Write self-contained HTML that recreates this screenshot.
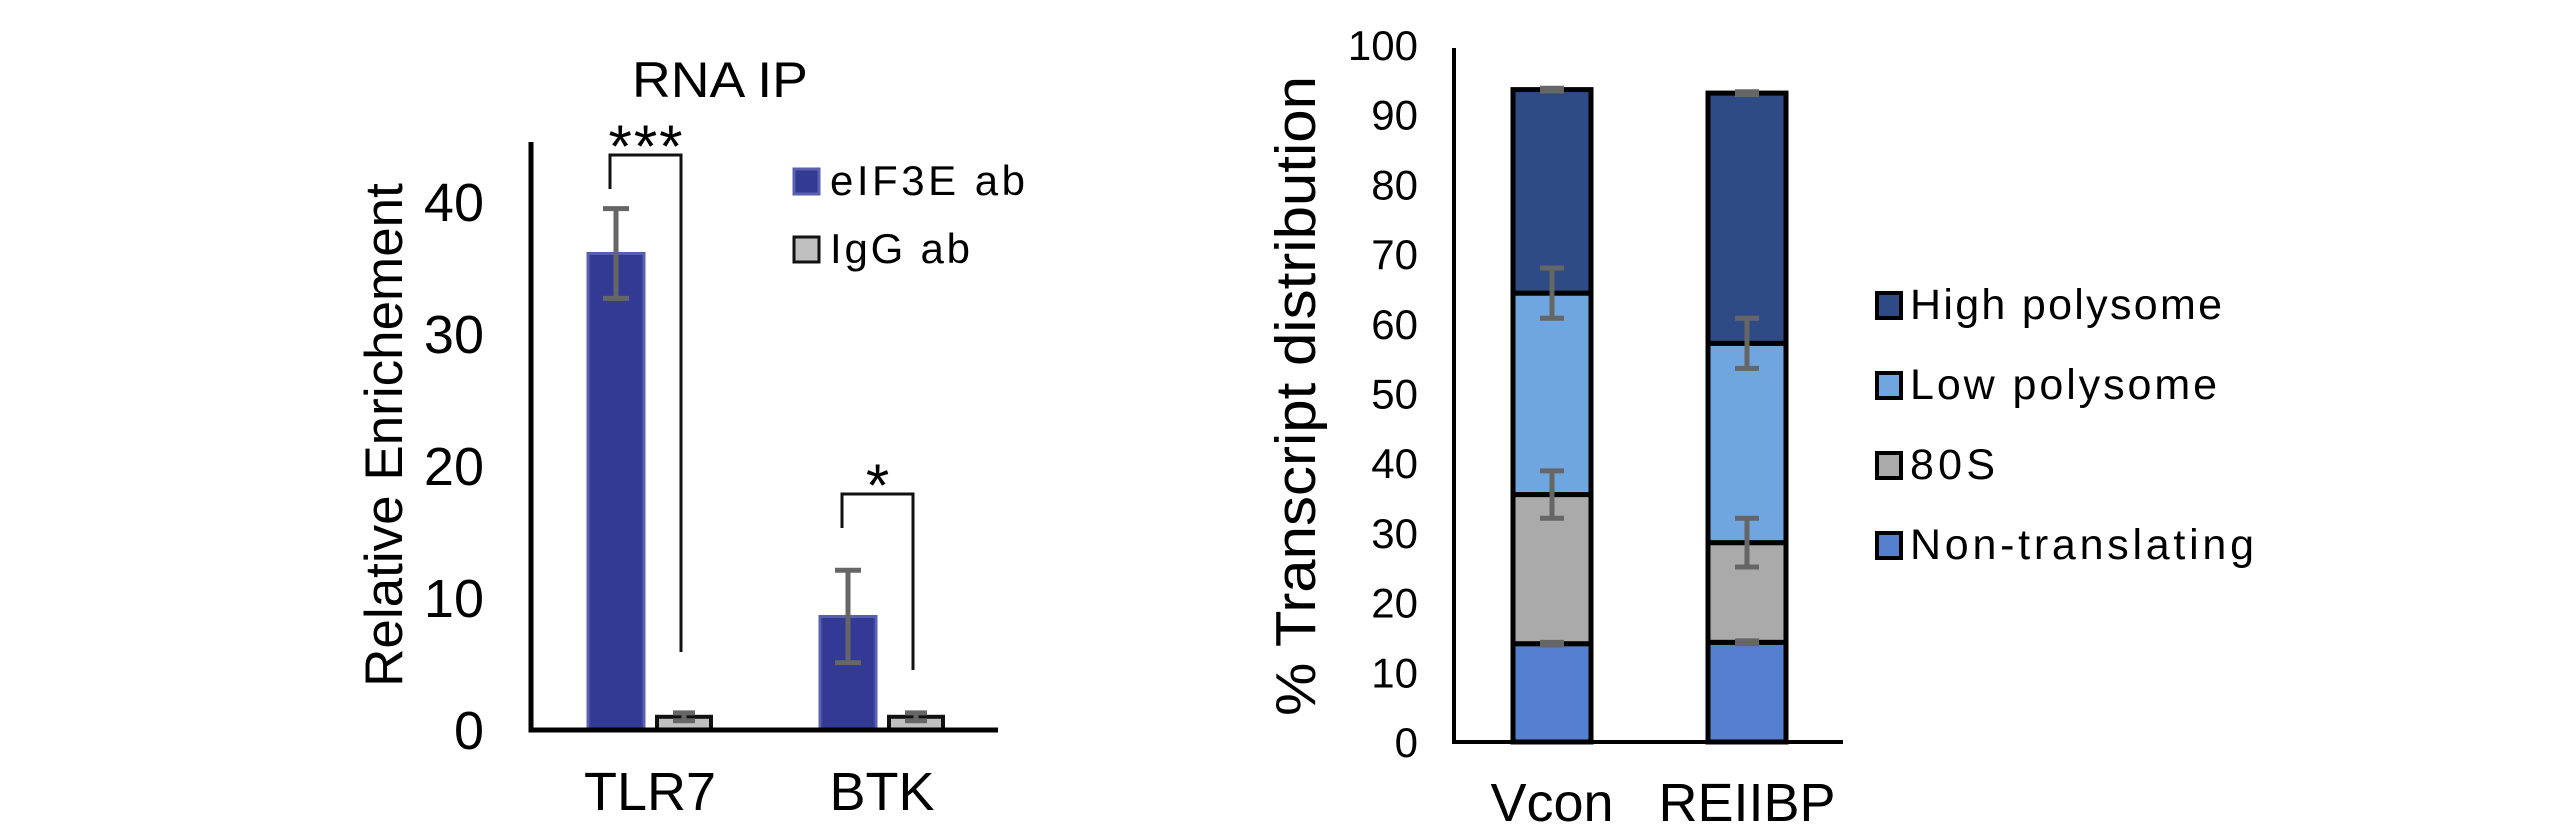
<!DOCTYPE html>
<html><head><meta charset="utf-8"><style>
html,body{margin:0;padding:0;background:#fff;}
svg{display:block;font-family:"Liberation Sans",Arial,sans-serif;}
</style></head><body>
<svg id="c" width="2559" height="834" viewBox="0 0 2559 834"></svg>
<script>
// ---- Left chart data ----
const ripCategories = ["TLR7", "BTK"];
const ripSeriesNames = ["eIF3E ab", "IgG ab"];
const ripEif3e = [36.1, 8.6];
const ripEif3eErr = [3.4, 3.5];
const ripIgg = [1.0, 1.0];
const ripIggErr = [0.3, 0.3];
const ripTicks = [0, 10, 20, 30, 40];
const ripSig = ["***", "*"];

// ---- Right chart data ----
const polyCategories = ["Vcon", "REIIBP"];
const polySegments = ["Non-translating", "80S", "Low polysome", "High polysome"];
const polyNonTrans = [14.1, 14.3];
const poly80S = [21.4, 14.3];
const polyLow = [28.9, 28.6];
const polyHigh = [29.2, 35.9];
const polyErrNonTrans = [0.2, 0.2];
const polyErr80S = [3.4, 3.5];
const polyErrLow = [3.6, 3.6];
const polyErrHigh = [0.2, 0.2];
const polyTicks = [0,10,20,30,40,50,60,70,80,90,100];

const NS = "http://www.w3.org/2000/svg";
const svg = document.getElementById("c");
function mk(tag, attrs, parent, text){
  const e = document.createElementNS(NS, tag);
  for (const k in attrs) e.setAttribute(k, attrs[k]);
  if (text !== undefined) e.textContent = text;
  (parent||svg).appendChild(e);
  return e;
}
function errBar(g, x, y1, y2, w){
  const p = mk("path", {d:`M${x-w} ${y1}H${x+w}M${x} ${y1}V${y2}M${x-w} ${y2}H${x+w}`, stroke:"#666", "stroke-width":5, fill:"none"}, g);
  
  
}

// ===== Left chart =====
const L = {x0:531, x1:998, base:730, per:13.2};
const ly = v => L.base - v*L.per;
const lBlueX = [588, 820], lBarW = 56, lGrayOff = 69;
const lg = mk("g", {});


let t = mk("text", {x:720, y:97, "font-size":50, "text-anchor":"middle", textLength:176, lengthAdjust:"spacingAndGlyphs"}, lg, "RNA IP");


t = mk("text", {x:0, y:0, "font-size":53, "text-anchor":"middle", transform:"translate(402,435) rotate(-90)"}, lg, "Relative Enrichement");


ripTicks.forEach(v=>{
  const e = mk("text", {x:484, y:ly(v)+19, "font-size":54, "text-anchor":"end"}, lg, String(v));
  
  
});
ripCategories.forEach((c,i)=>{
  const bx = lBlueX[i];
  let r = mk("rect", {x:bx, y:ly(ripEif3e[i]), width:lBarW, height:ripEif3e[i]*L.per, fill:"#333a94", stroke:"#5a60b0", "stroke-width":3}, lg);
  
  
  errBar(lg, bx+lBarW/2, ly(ripEif3e[i]+ripEif3eErr[i]), ly(ripEif3e[i]-ripEif3eErr[i]), 13);
  const gx = bx + lGrayOff;
  r = mk("rect", {x:gx, y:ly(ripIgg[i]), width:lBarW-2, height:ripIgg[i]*L.per, fill:"#c0c0c0", stroke:"#111", "stroke-width":4}, lg);
  
  
  errBar(lg, gx+lBarW/2-1, ly(ripIgg[i]+ripIggErr[i]), ly(ripIgg[i]-ripIggErr[i]), 11);
  const xl = mk("text", {x:bx+lBarW+6, y:810, "font-size":54, "text-anchor":"middle"}, lg, c);
  
  
  const xa = bx+22, xb = gx+24;
  const yTop = i===0 ? 155 : 494;
  const yLeft = i===0 ? 189 : 528;
  const yRight = i===0 ? 652 : 670;
  const br = mk("path", {d:`M${xa} ${yLeft}V${yTop}H${xb}V${yRight}`, stroke:"#111", "stroke-width":3, fill:"none"}, lg);
  
  
  const stAttrs = {x:(xa+xb)/2, y:yTop+12, "font-size":60, "text-anchor":"middle"};
  if (i===0){ stAttrs.textLength = 74; stAttrs.lengthAdjust = "spacing"; }
  const st = mk("text", stAttrs, lg, ripSig[i]);
  
  
});
let ax = mk("path", {d:`M${L.x0} 142V${L.base}H${L.x1}`, stroke:"#000", "stroke-width":5, fill:"none"}, lg);


const lLeg = [{y:169, fill:"#333a94", stroke:"#5a60b0", len:195}, {y:237, fill:"#c0c0c0", stroke:"#111", len:140}];
ripSeriesNames.forEach((n,i)=>{
  const g = mk("g", {}, lg);
  
  
  mk("rect", {x:794, y:lLeg[i].y, width:25, height:25, fill:lLeg[i].fill, stroke:lLeg[i].stroke, "stroke-width":3}, g);
  mk("text", {x:830, y:lLeg[i].y+26, "font-size":42, textLength:lLeg[i].len, lengthAdjust:"spacing"}, g, n);
});

// ===== Right chart =====
const R = {x0:1454, x1:1843, base:742, per:6.97};
const ry = v => R.base - v*R.per;
const rBarX = [1513, 1708], rBarW = 78;
const rg = mk("g", {});


t = mk("text", {x:0, y:0, "font-size":57, "text-anchor":"middle", textLength:640, lengthAdjust:"spacingAndGlyphs", transform:"translate(1315,396) rotate(-90)"}, rg, "% Transcript distribution");


polyTicks.forEach(v=>{
  const e = mk("text", {x:1418, y:ry(v)+15, "font-size":42, "text-anchor":"end"}, rg, String(v));
  
  
});
const segVals = [polyNonTrans, poly80S, polyLow, polyHigh];
const segErr = [polyErrNonTrans, polyErr80S, polyErrLow, polyErrHigh];
const segColor = ["#5580d0", "#aaaaaa", "#6fa6e0", "#2f4b86"];
polyCategories.forEach((c,i)=>{
  let cum = 0;
  const tops = [];
  segVals.forEach((arr,s)=>{
    const v = arr[i];
    const r = mk("rect", {x:rBarX[i], y:ry(cum+v), width:rBarW, height:v*R.per, fill:segColor[s], stroke:"#000", "stroke-width":5}, rg);
    
    
    cum += v;
    tops.push(cum);
  });
  tops.forEach((tp,s)=>{
    const e = segErr[s][i];
    errBar(rg, rBarX[i]+rBarW/2, ry(tp+e), ry(tp-e), 12);
  });
  const xl = mk("text", {x:rBarX[i]+rBarW/2, y:821, "font-size":54, "text-anchor":"middle"}, rg, c);
  
  
});
ax = mk("path", {d:`M${R.x0} 48V${R.base}H${R.x1}`, stroke:"#000", "stroke-width":4, fill:"none"}, rg);


const rLegY = [293, 373, 453, 533];
const rLegOrder = [3, 2, 1, 0];
const rLegLen = [312, 307, 85, 344];
rLegOrder.forEach((s,k)=>{
  const g = mk("g", {}, rg);
  
  
  mk("rect", {x:1877, y:rLegY[k], width:24, height:25, fill:segColor[s], stroke:"#000", "stroke-width":4}, g);
  mk("text", {x:1910, y:rLegY[k]+26, "font-size":43, textLength:rLegLen[k], lengthAdjust:"spacing"}, g, polySegments[s]);
});
</script>
</body></html>
